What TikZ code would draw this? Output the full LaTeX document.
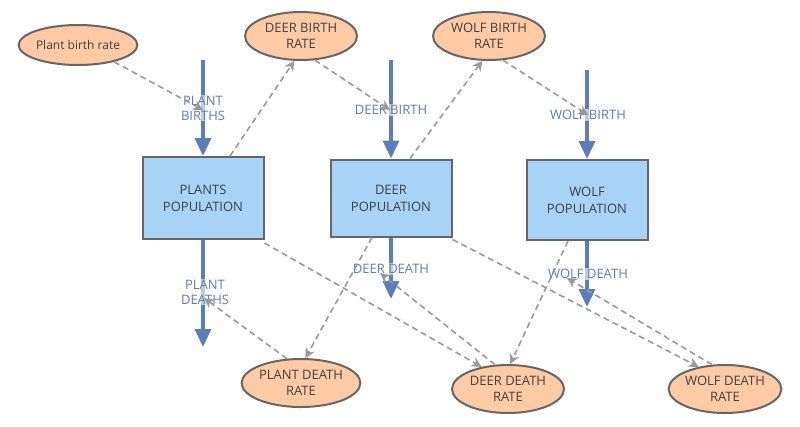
\documentclass[tikz,border=0pt]{standalone}
\usepackage{fontspec}
\setmainfont{Open Sans}
\usetikzlibrary{arrows.meta,shapes.geometric}
\definecolor{flowblue}{HTML}{5B7DB8}
\definecolor{boxfill}{HTML}{A7D3F7}
\definecolor{rateFill}{HTML}{FFCBA4}
\definecolor{edgegray}{HTML}{666666}
\tikzset{
  stock/.style={draw=edgegray,line width=2pt,fill=boxfill,minimum width=121pt,minimum height=82pt,align=center,text=black!75,font=\fontsize{13}{17}\selectfont},
  rate/.style={ellipse,draw=edgegray,line width=2pt,fill=rateFill,minimum width=112pt,minimum height=48pt,inner sep=0pt,align=center,text=black!75,font=\fontsize{13}{16}\selectfont},
  flow/.style={draw=flowblue,line width=3.5pt,-{Triangle[width=16pt,length=18pt]}},
  flowlab/.style={fill=white,fill opacity=0.6,text opacity=1,inner sep=1pt,align=center,text=flowblue,font=\fontsize{13}{15}\selectfont},
  link/.style={draw=gray!80,line width=1.6pt,dash pattern=on 6pt off 4pt,-{Stealth[width=10pt,length=10pt]}}
}
\begin{document}
\begin{tikzpicture}[x=1pt,y=-1pt]
\useasboundingbox (0,0) rectangle (800,426);

% stocks
\node[stock] (plants) at (203,198) {PLANTS\\POPULATION};
\node[stock,minimum height=77pt] (deer) at (391,198) {DEER\\POPULATION};
\node[stock,minimum height=80pt] (wolf) at (587,200) {WOLF\\POPULATION};

% rates
\node[rate,minimum width=118pt,minimum height=40pt] (pbr) at (78,45) {\fontsize{12}{14}\selectfont Plant birth rate};
\node[rate] (dbr) at (301,36) {DEER BIRTH\\RATE};
\node[rate] (wbr) at (489,36) {WOLF BIRTH\\RATE};
\node[rate] (pdr) at (301,383) {PLANT DEATH\\RATE};
\node[rate] (ddr) at (508,389) {DEER DEATH\\RATE};
\node[rate] (wdr) at (725,389) {WOLF DEATH\\RATE};

% flow ends
\coordinate (pbin) at (203,60);
\coordinate (dbin) at (391,60);
\coordinate (wbin) at (587,70);
\coordinate (pdout) at (203,347);
\coordinate (ddout) at (391,299);
\coordinate (wdout) at (587,307);

\draw[flow] (pbin) -- (plants.north);
\draw[flow] (dbin) -- (deer.north);
\draw[flow] (wbin) -- (wolf.north);
\draw[flow] (plants.south) -- (pdout);
\draw[flow] (deer.south) -- (ddout);
\draw[flow] (wolf.south) -- (wdout);

% flow labels
\node[flowlab] (pbl) at (203,108) {PLANT\\BIRTHS};
\node[flowlab] (dbl) at (391,110) {DEER BIRTH};
\node[flowlab] (wbl) at (588,115) {WOLF BIRTH};
\node[flowlab] (pdl) at (205,292) {PLANT\\DEATHS};
\node[flowlab] (ddl) at (391,269) {DEER DEATH};
\node[flowlab] (wdl) at (588,274) {WOLF DEATH};

% link targets
\coordinate (pbt) at (203,110);
\coordinate (dbt) at (390,110);
\coordinate (wbt) at (588,115);
\coordinate (pdt) at (204,298);
\coordinate (ddt) at (380,273);
\coordinate (wdt) at (567,278);

% information links
\draw[link] (pbr.-25) -- (pbt);
\draw[link] ([xshift=27pt]plants.north) -- (dbr.-105);
\draw[link] (dbr.-60) -- (dbt);
\draw[link] ([xshift=19pt]deer.north) -- (wbr.-105);
\draw[link] (wbr.-60) -- (wbt);
\draw[link] (pdr.120) -- (pdt);
\draw[link] ([xshift=-19pt]deer.south) -- (pdr.80);
\draw[link] ([yshift=-3pt]plants.south east) -- (ddr.140);
\draw[link] (ddr.118) -- (ddt);
\draw[link] ([yshift=-2pt]deer.south east) -- (wdr.140);
\draw[link] (wdr.118) -- (wdt);
\draw[link] ([xshift=-19pt]wolf.south) -- (ddr.85);
\end{tikzpicture}
\end{document}
